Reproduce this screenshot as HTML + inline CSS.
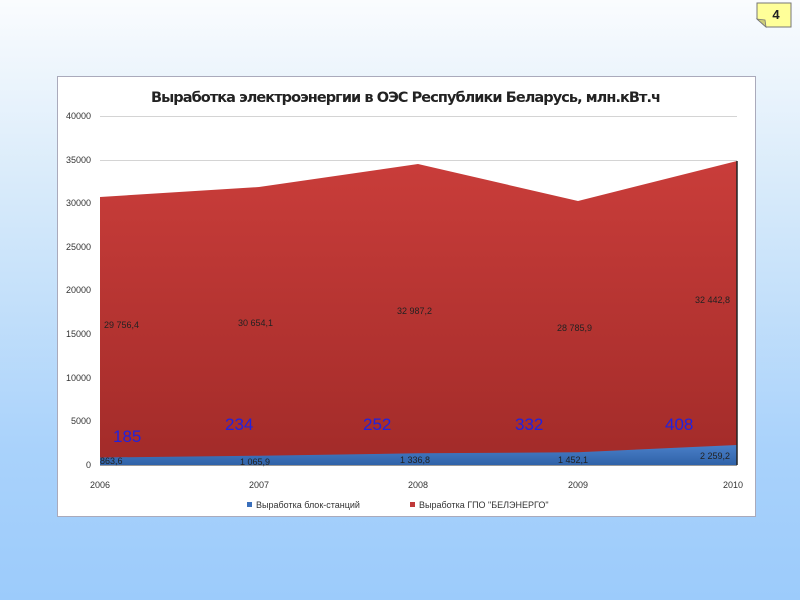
<!DOCTYPE html>
<html><head><meta charset="utf-8"><style>
body{margin:0;width:800px;height:600px;overflow:hidden;background:linear-gradient(#fafcfe 0%,#d9ebfa 30%,#a9d2fb 75%,#9ccbfb 100%);font-family:"Liberation Sans",sans-serif}
</style></head><body>
<svg width="800" height="600" style="position:absolute;left:0;top:0">
<defs>
<linearGradient id="r" x1="0" y1="0" x2="0" y2="1"><stop offset="0" stop-color="#c93d3a"/><stop offset="1" stop-color="#a22b29"/></linearGradient>
<linearGradient id="b" x1="0" y1="0" x2="0" y2="1"><stop offset="0" stop-color="#4a7fc8"/><stop offset="1" stop-color="#2f62a8"/></linearGradient>
</defs>
<path d="M757 3 h34 v24 h-25 l-9 -8 z" fill="#ffff99" stroke="#777" stroke-width="1"/>
<path d="M757 19 l9 8 l-1 -7 z" fill="#cccc77" stroke="#777" stroke-width="0.8"/>
<text x="776" y="19" font-size="13" font-weight="bold" fill="#222" text-anchor="middle">4</text>
<rect x="57.5" y="76.5" width="698" height="440" fill="#fff" stroke="#aab" stroke-width="1"/>
<text x="406" y="102" font-size="14.5" font-weight="bold" fill="#222" text-anchor="middle" font-family="'DejaVu Sans',sans-serif" textLength="510">Выработка электроэнергии в ОЭС Республики Беларусь, млн.кВт.ч</text>
<g stroke="#d4d4d4" stroke-width="1">
<line x1="100" y1="116.5" x2="737" y2="116.5"/><line x1="100" y1="160.5" x2="737" y2="160.5"/><line x1="100" y1="203.5" x2="737" y2="203.5"/><line x1="100" y1="247.5" x2="737" y2="247.5"/><line x1="100" y1="290.5" x2="737" y2="290.5"/><line x1="100" y1="334.5" x2="737" y2="334.5"/><line x1="100" y1="378.5" x2="737" y2="378.5"/><line x1="100" y1="421.5" x2="737" y2="421.5"/>
</g>
<g font-size="9" fill="#333" text-anchor="end">
<text x="91" y="119">40000</text><text x="91" y="163">35000</text><text x="91" y="206">30000</text><text x="91" y="250">25000</text><text x="91" y="293">20000</text><text x="91" y="337">15000</text><text x="91" y="381">10000</text><text x="91" y="424">5000</text><text x="91" y="468">0</text>
</g>
<polygon points="100,197 259,187 418,164 578,201 737,161 737,465 100,465" fill="url(#r)"/>
<polygon points="100,457.5 259,455.7 418,453.3 578,452.3 737,445 737,465 100,465" fill="url(#b)"/>
<line x1="737" y1="161" x2="737" y2="465" stroke="#222" stroke-width="1.5"/>
<line x1="100" y1="465.5" x2="737" y2="465.5" stroke="#999"/>
<g font-size="9" fill="#222">
<text x="104" y="328">29 756,4</text><text x="238" y="326">30 654,1</text><text x="397" y="314">32 987,2</text><text x="557" y="331">28 785,9</text><text x="695" y="303">32 442,8</text>
<text x="100" y="464">863,6</text><text x="240" y="465">1 065,9</text><text x="400" y="463">1 336,8</text><text x="558" y="463">1 452,1</text><text x="700" y="459">2 259,2</text>
</g>
<g font-size="17" fill="#2222dd">
<text x="113" y="442">185</text><text x="225" y="430">234</text><text x="363" y="430">252</text><text x="515" y="430">332</text><text x="665" y="430">408</text>
</g>
<g font-size="9" fill="#333" text-anchor="middle">
<text x="100" y="488">2006</text><text x="259" y="488">2007</text><text x="418" y="488">2008</text><text x="578" y="488">2009</text><text x="733" y="488">2010</text>
</g>
<rect x="247" y="502" width="5" height="5" fill="#3a6fbb"/>
<text x="256" y="508" font-size="9" fill="#333">Выработка блок-станций</text>
<rect x="410" y="502" width="5" height="5" fill="#c0393a"/>
<text x="419" y="508" font-size="9" fill="#333">Выработка ГПО "БЕЛЭНЕРГО"</text>
</svg>
</body></html>
